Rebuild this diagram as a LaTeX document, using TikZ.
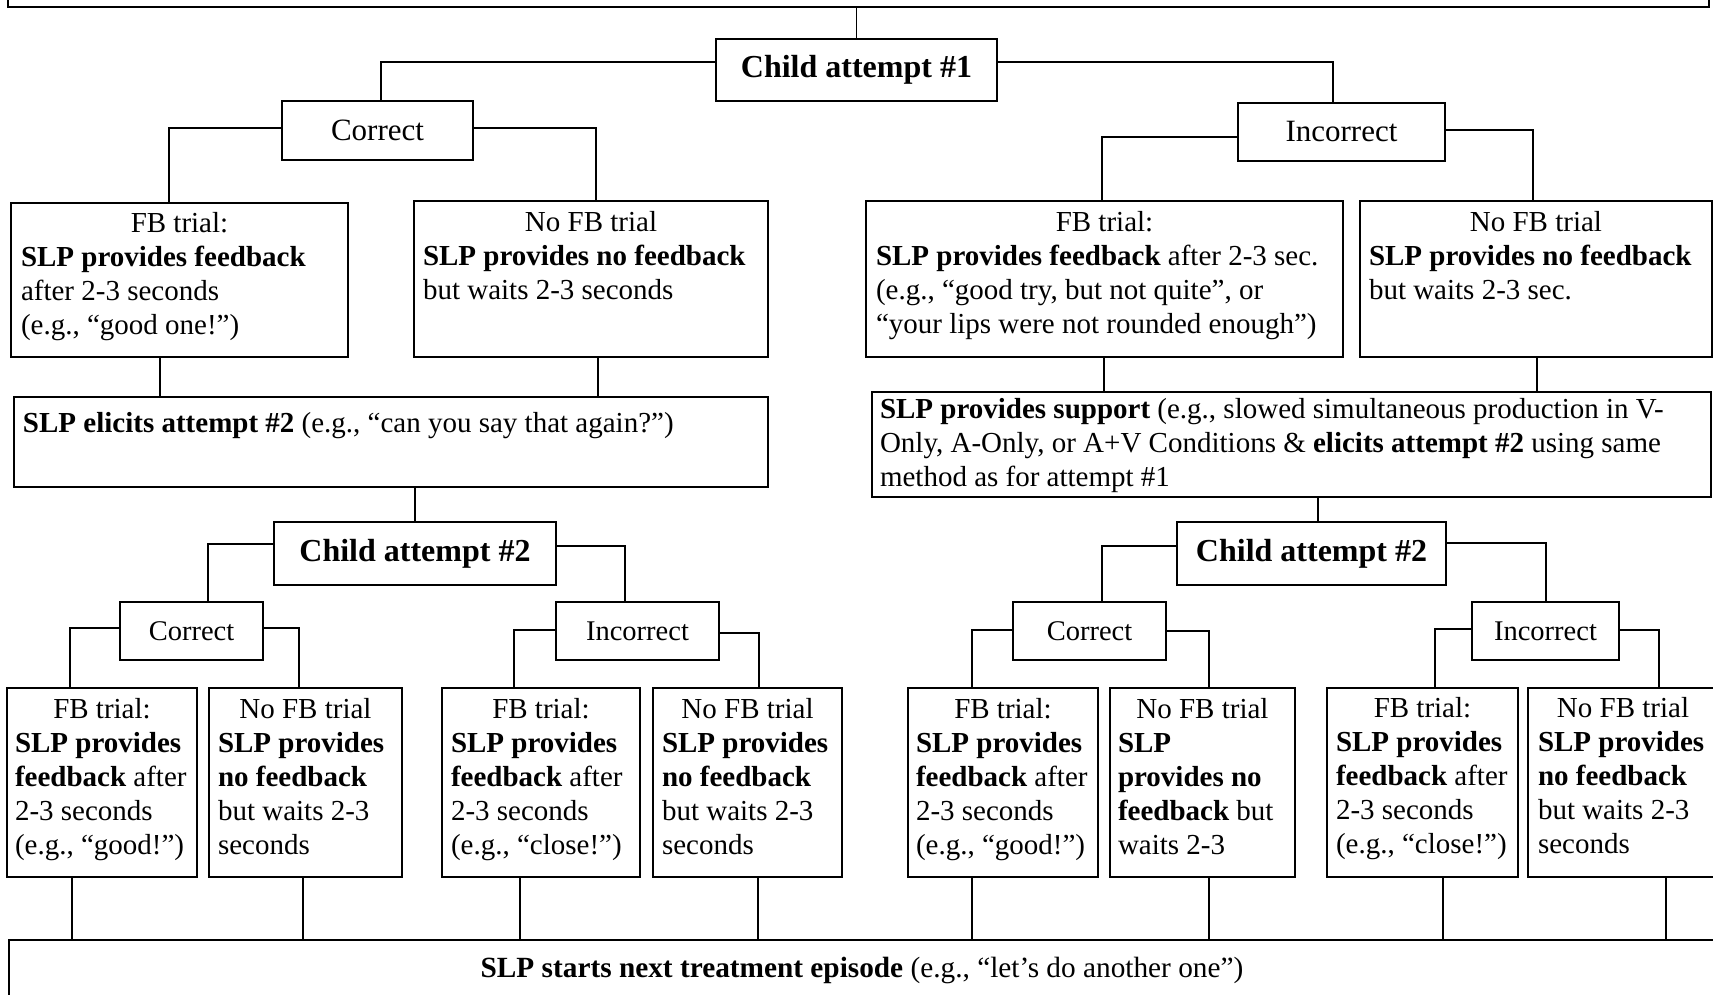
\documentclass[tikz,border=0pt]{standalone}
\usepackage{fontspec}
\setmainfont{Liberation Serif}
\usetikzlibrary{calc}
\begin{document}
\begin{tikzpicture}[x=1pt,y=-1pt,
  box/.style={draw, line width=2.4pt, rectangle, inner sep=0pt, outer sep=0pt, anchor=north west},
  conn/.style={line width=1.3pt},
  txt/.style={inner sep=0pt, outer sep=0pt, anchor=north west, align=left, font=\fontsize{29}{34}\selectfont},
  txtb/.style={inner sep=0pt, outer sep=0pt, anchor=north west, align=left, font=\fontsize{29}{34}\selectfont},
  head/.style={font=\fontsize{32}{38}\selectfont\bfseries},
  labA/.style={font=\fontsize{31}{36}\selectfont},
  labB/.style={font=\fontsize{28.5}{34}\selectfont},
]
\useasboundingbox (0,0) rectangle (1713,995);
\clip (0,0) rectangle (1713,995);

% ---------- boxes ----------
\node[box, minimum width=1701pt, minimum height=100pt] (top) at (8,-93) {};
\node[box, head, minimum width=281pt, minimum height=62pt] (child1) at (716,39) {Child attempt \#1};
\node[box, labA, minimum width=191pt, minimum height=59pt] (cor1) at (282,101) {Correct};
\node[box, labA, minimum width=207pt, minimum height=58pt] (inc1) at (1238,103) {Incorrect};

\node[box, minimum width=337pt, minimum height=154pt] (fb1l) at (11,203) {};
\node[box, minimum width=354pt, minimum height=156pt] (nofb1l) at (414,201) {};
\node[box, minimum width=477pt, minimum height=156pt] (fb1r) at (866,201) {};
\node[box, minimum width=352pt, minimum height=156pt] (nofb1r) at (1360,201) {};

\node[box, minimum width=754pt, minimum height=90pt] (el) at (14,397) {};
\node[box, minimum width=839pt, minimum height=105pt] (sup) at (872,392) {};

\node[box, head, minimum width=282pt, minimum height=63pt] (child2l) at (274,522) {Child attempt \#2};
\node[box, head, minimum width=269pt, minimum height=63pt] (child2r) at (1177,522) {Child attempt \#2};

\node[box, labB, minimum width=143pt, minimum height=58pt] (cor2l) at (120,602) {Correct};
\node[box, labB, minimum width=163pt, minimum height=58pt] (inc2l) at (556,602) {Incorrect};
\node[box, labB, minimum width=153pt, minimum height=58pt] (cor2r) at (1013,602) {Correct};
\node[box, labB, minimum width=147pt, minimum height=58pt] (inc2r) at (1472,602) {Incorrect};

\node[box, minimum width=190pt, minimum height=189pt] (fb2ll) at (7,688) {};
\node[box, minimum width=193pt, minimum height=189pt] (nofb2ll) at (209,688) {};
\node[box, minimum width=198pt, minimum height=189pt] (fb2lr) at (442,688) {};
\node[box, minimum width=189pt, minimum height=189pt] (nofb2lr) at (653,688) {};
\node[box, minimum width=190pt, minimum height=189pt] (fb2rl) at (908,688) {};
\node[box, minimum width=185pt, minimum height=189pt] (nofb2rl) at (1110,688) {};
\node[box, minimum width=191pt, minimum height=189pt] (fb2rr) at (1327,688) {};
\node[box, minimum width=190pt, minimum height=189pt] (nofb2rr) at (1528,688) {};

\node[box, minimum width=1760pt, minimum height=120pt] (bot) at (9,940) {};

% ---------- texts ----------
\node[txt] (tfb1l) at ($(fb1l.north west)+(10,0)$)
  {\makebox[317pt]{\rule{0pt}{29pt}FB trial:}\\ \textbf{SLP provides feedback}\\ after 2-3 seconds\\ (e.g., “good one!”)};
\node[txt] (tnofb1l) at ($(nofb1l.north west)+(9,0)$)
  {\makebox[336pt]{\rule{0pt}{30pt}No FB trial}\\ \textbf{SLP provides no feedback}\\ but waits 2-3 seconds};
\node[txt] (tfb1r) at ($(fb1r.north west)+(10,0)$)
  {\makebox[457pt]{\rule{0pt}{30pt}FB trial:}\\ \textbf{SLP provides feedback} after 2-3 sec.\\ (e.g., “good try, but not quite”, or\\ “your lips were not rounded enough”)};
\node[txt] (tnofb1r) at ($(nofb1r.north west)+(9,0)$)
  {\makebox[334pt]{\rule{0pt}{30pt}No FB trial}\\ \textbf{SLP provides no feedback}\\ but waits 2-3 sec.};
\node[txt] (tel) at ($(el.north west)+(9,0)$)
  {\rule{0pt}{35pt}\textbf{SLP elicits attempt \#2} (e.g., “can you say that again?”)};
\node[txt] (tsup) at ($(sup.north west)+(8,0)$)
  {\rule{0pt}{26pt}\textbf{SLP provides support} (e.g., slowed simultaneous production in V-\\ Only, A-Only, or A+V Conditions \& \textbf{elicits attempt \#2} using same\\ method as for attempt \#1};

\node[txtb] (tfb2ll) at ($(fb2ll.north west)+(8,0)$)
  {\makebox[174pt]{\rule{0pt}{30pt}FB trial:}\\ \textbf{SLP provides}\\ \textbf{feedback} after\\ 2-3 seconds\\ (e.g., “good!”)};
\node[txtb] (tnofb2ll) at ($(nofb2ll.north west)+(9,0)$)
  {\makebox[175pt]{\rule{0pt}{30pt}No FB trial}\\ \textbf{SLP provides}\\ \textbf{no feedback}\\ but waits 2-3\\ seconds};
\node[txtb] (tfb2lr) at ($(fb2lr.north west)+(9,0)$)
  {\makebox[180pt]{\rule{0pt}{30pt}FB trial:}\\ \textbf{SLP provides}\\ \textbf{feedback} after\\ 2-3 seconds\\ (e.g., “close!”)};
\node[txtb] (tnofb2lr) at ($(nofb2lr.north west)+(9,0)$)
  {\makebox[171pt]{\rule{0pt}{30pt}No FB trial}\\ \textbf{SLP provides}\\ \textbf{no feedback}\\ but waits 2-3\\ seconds};
\node[txtb] (tfb2rl) at ($(fb2rl.north west)+(8,0)$)
  {\makebox[174pt]{\rule{0pt}{30pt}FB trial:}\\ \textbf{SLP provides}\\ \textbf{feedback} after\\ 2-3 seconds\\ (e.g., “good!”)};
\node[txtb] (tnofb2rl) at ($(nofb2rl.north west)+(8,0)$)
  {\makebox[169pt]{\rule{0pt}{30pt}No FB trial}\\ \textbf{SLP}\\ \textbf{provides no}\\ \textbf{feedback} but\\ waits 2-3};
\node[txtb] (tfb2rr) at ($(fb2rr.north west)+(9,0)$)
  {\makebox[173pt]{\rule{0pt}{29pt}FB trial:}\\ \textbf{SLP provides}\\ \textbf{feedback} after\\ 2-3 seconds\\ (e.g., “close!”)};
\node[txtb] (tnofb2rr) at ($(nofb2rr.north west)+(10,0)$)
  {\makebox[170pt]{\rule{0pt}{29pt}No FB trial}\\ \textbf{SLP provides}\\ \textbf{no feedback}\\ but waits 2-3\\ seconds};

\node[inner sep=0pt, anchor=base, font=\fontsize{29.3}{34}\selectfont] (tbot) at (862,977)
  {\textbf{SLP starts next treatment episode} (e.g., “let’s do another one”)};

% ---------- connectors ----------
\draw[conn] (child1.north) -- (child1.north |- top.south);
\draw[conn] ($(child1.north west)+(0,23)$) -| ($(cor1.north west)+(99,0)$);
\draw[conn] ($(child1.north east)+(0,23)$) -| ($(inc1.north west)+(95,0)$);
\draw[conn] ($(cor1.north west)+(0,27)$) -| ($(fb1l.north west)+(158,0)$);
\draw[conn] ($(cor1.north east)+(0,27)$) -| ($(nofb1l.north west)+(182,0)$);
\draw[conn] ($(inc1.north west)+(0,34)$) -| ($(fb1r.north west)+(236,0)$);
\draw[conn] ($(inc1.north east)+(0,27)$) -| ($(nofb1r.north west)+(173,0)$);

\coordinate (a1) at ($(fb1l.south west)+(149,0)$);
\coordinate (a2) at ($(nofb1l.south west)+(184,0)$);
\coordinate (a3) at ($(fb1r.south west)+(238,0)$);
\coordinate (a4) at ($(nofb1r.south west)+(177,0)$);
\draw[conn] (a1) -- (a1 |- el.north);
\draw[conn] (a2) -- (a2 |- el.north);
\draw[conn] (a3) -- (a3 |- sup.north);
\draw[conn] (a4) -- (a4 |- sup.north);

\draw[conn] (child2l.north) -- (child2l.north |- el.south);
\coordinate (a5) at ($(child2r.north west)+(141,0)$);
\draw[conn] (a5) -- (a5 |- sup.south);

\draw[conn] ($(child2l.north west)+(0,22)$) -| ($(cor2l.north west)+(88,0)$);
\draw[conn] ($(child2l.north east)+(0,24)$) -| ($(inc2l.north west)+(69,0)$);
\draw[conn] ($(child2r.north west)+(0,24)$) -| ($(cor2r.north west)+(89,0)$);
\draw[conn] ($(child2r.north east)+(0,21)$) -| ($(inc2r.north west)+(74,0)$);

\draw[conn] ($(cor2l.north west)+(0,26)$) -| ($(fb2ll.north west)+(63,0)$);
\draw[conn] ($(cor2l.north east)+(0,26)$) -| ($(nofb2ll.north west)+(90,0)$);
\draw[conn] ($(inc2l.north west)+(0,28)$) -| ($(fb2lr.north west)+(72,0)$);
\draw[conn] ($(inc2l.north east)+(0,31)$) -| ($(nofb2lr.north west)+(106,0)$);
\draw[conn] ($(cor2r.north west)+(0,28)$) -| ($(fb2rl.north west)+(64,0)$);
\draw[conn] ($(cor2r.north east)+(0,29)$) -| ($(nofb2rl.north west)+(99,0)$);
\draw[conn] ($(inc2r.north west)+(0,27)$) -| ($(fb2rr.north west)+(108,0)$);
\draw[conn] ($(inc2r.north east)+(0,28)$) -| ($(nofb2rr.north west)+(131,0)$);

\coordinate (b1) at ($(fb2ll.south west)+(65,0)$);
\coordinate (b2) at ($(nofb2ll.south west)+(94,0)$);
\coordinate (b3) at ($(fb2lr.south west)+(78,0)$);
\coordinate (b4) at ($(nofb2lr.south west)+(105,0)$);
\coordinate (b5) at ($(fb2rl.south west)+(64,0)$);
\coordinate (b6) at ($(nofb2rl.south west)+(99,0)$);
\coordinate (b7) at ($(fb2rr.south west)+(116,0)$);
\coordinate (b8) at ($(nofb2rr.south west)+(138,0)$);
\foreach \c in {b1,b2,b3,b4,b5,b6,b7,b8}{
  \draw[conn] (\c) -- (\c |- bot.north);
}
\end{tikzpicture}
\end{document}
